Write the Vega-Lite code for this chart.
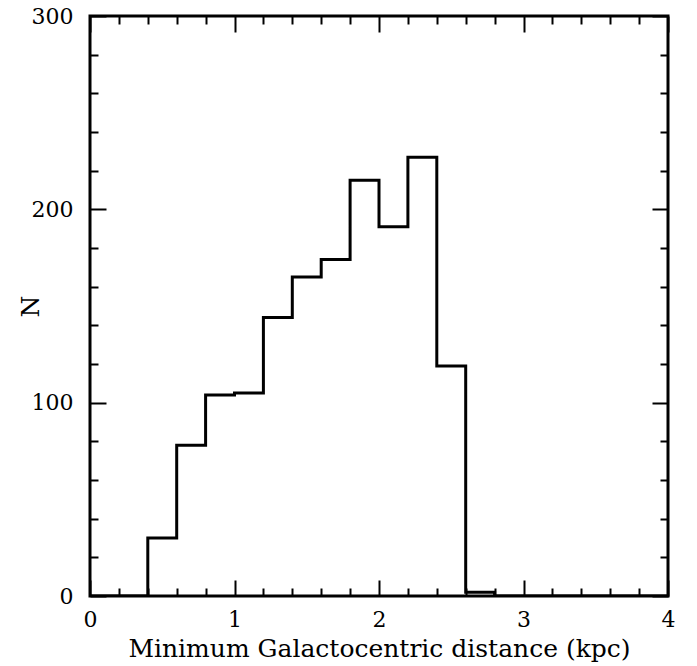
{
  "$schema": "https://vega.github.io/schema/vega-lite/v6.json",
  "width": 578,
  "height": 580,
  "autosize": {"type": "none"},
  "padding": {"left": 90, "top": 16, "right": 29, "bottom": 70},
  "background": "white",
  "config": {
    "view": {"stroke": "black", "strokeWidth": 3},
    "axis": {
      "domain": false,
      "grid": false,
      "tickColor": "black",
      "labelColor": "black",
      "titleColor": "black",
      "labelFont": "DejaVu Serif",
      "titleFont": "DejaVu Serif",
      "labelFontSize": 22,
      "titleFontSize": 25,
      "labelFontWeight": "normal",
      "titleFontWeight": "normal"
    }
  },
  "data": {
    "values": [
      {"r": 0.0, "n": 0},
      {"r": 0.2, "n": 0},
      {"r": 0.4, "n": 30},
      {"r": 0.6, "n": 78},
      {"r": 0.8, "n": 104},
      {"r": 1.0, "n": 105},
      {"r": 1.2, "n": 144},
      {"r": 1.4, "n": 165},
      {"r": 1.6, "n": 174},
      {"r": 1.8, "n": 215},
      {"r": 2.0, "n": 191},
      {"r": 2.2, "n": 227},
      {"r": 2.4, "n": 119},
      {"r": 2.6, "n": 2},
      {"r": 2.8, "n": 0},
      {"r": 3.0, "n": 0},
      {"r": 3.2, "n": 0},
      {"r": 3.4, "n": 0},
      {"r": 3.6, "n": 0},
      {"r": 3.8, "n": 0},
      {"r": 4.0, "n": 0}
    ]
  },
  "layer": [
    {
      "mark": {"type": "line", "interpolate": "step-after", "color": "black", "strokeWidth": 3, "clip": true},
      "encoding": {
        "x": {
          "field": "r", "type": "quantitative",
          "scale": {"domain": [0, 4], "nice": false, "zero": false},
          "axis": {
            "orient": "bottom",
            "title": "Minimum Galactocentric distance (kpc)",
            "values": [0, 1, 2, 3, 4],
            "format": "d",
            "tickSize": -16, "tickWidth": 2,
            "labelPadding": 29,
            "labelFlush": false,
            "titleX": 289, "titleY": 52, "titleBaseline": "middle"
          }
        },
        "y": {
          "field": "n", "type": "quantitative",
          "scale": {"domain": [0, 300], "nice": false},
          "axis": {
            "orient": "left",
            "title": "N",
            "values": [0, 100, 200, 300],
            "tickSize": -16, "tickWidth": 2,
            "labelPadding": 33,
            "labelFlush": false,
            "titleX": -60, "titleY": 290, "titleAngle": -90,
            "titleBaseline": "middle", "titleAlign": "center"
          }
        }
      }
    },
    {
      "mark": {"type": "point", "opacity": 0},
      "encoding": {
        "x": {
          "field": "r", "type": "quantitative",
          "axis": {
            "orient": "bottom", "title": null, "labels": false,
            "values": [0.2, 0.4, 0.6, 0.8, 1.2, 1.4, 1.6, 1.8, 2.2, 2.4, 2.6, 2.8, 3.2, 3.4, 3.6, 3.8],
            "tickSize": -8, "tickWidth": 2
          }
        },
        "y": {
          "field": "n", "type": "quantitative",
          "axis": {
            "orient": "left", "title": null, "labels": false,
            "values": [20, 40, 60, 80, 120, 140, 160, 180, 220, 240, 260, 280],
            "tickSize": -8, "tickWidth": 2
          }
        }
      }
    },
    {
      "mark": {"type": "point", "opacity": 0},
      "encoding": {
        "x": {
          "field": "r", "type": "quantitative",
          "axis": {
            "orient": "top", "title": null, "labels": false,
            "values": [0, 1, 2, 3, 4],
            "tickSize": -16, "tickWidth": 2
          }
        },
        "y": {
          "field": "n", "type": "quantitative",
          "axis": {
            "orient": "right", "title": null, "labels": false,
            "values": [0, 100, 200, 300],
            "tickSize": -16, "tickWidth": 2
          }
        }
      }
    },
    {
      "mark": {"type": "point", "opacity": 0},
      "encoding": {
        "x": {
          "field": "r", "type": "quantitative",
          "axis": {
            "orient": "top", "title": null, "labels": false,
            "values": [0.2, 0.4, 0.6, 0.8, 1.2, 1.4, 1.6, 1.8, 2.2, 2.4, 2.6, 2.8, 3.2, 3.4, 3.6, 3.8],
            "tickSize": -8, "tickWidth": 2
          }
        },
        "y": {
          "field": "n", "type": "quantitative",
          "axis": {
            "orient": "right", "title": null, "labels": false,
            "values": [20, 40, 60, 80, 120, 140, 160, 180, 220, 240, 260, 280],
            "tickSize": -8, "tickWidth": 2
          }
        }
      }
    }
  ],
  "resolve": {"axis": {"x": "independent", "y": "independent"}}
}
